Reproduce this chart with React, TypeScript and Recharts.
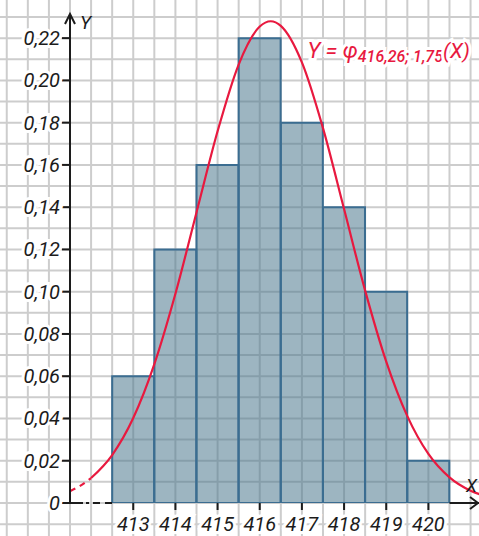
import React from "react";
import { ComposedChart, Bar, Line, XAxis, YAxis, CartesianGrid, ReferenceLine, ReferenceDot } from "recharts";

// histogram: relative frequencies per class
const classes = [413, 414, 415, 416, 417, 418, 419, 420];
const frequencies = [0.06, 0.12, 0.16, 0.22, 0.18, 0.14, 0.1, 0.02];

// density curve (solid part)
const curveX = [412, 412.5, 413, 413.5, 414, 414.5, 415, 415.5, 416, 416.26, 416.5, 417, 417.5, 418, 418.5, 419, 419.5, 420, 420.5, 421, 421.5];
const curveY = [0.0118, 0.0227, 0.0402, 0.0657, 0.099, 0.1375, 0.1759, 0.2075, 0.2255, 0.228, 0.2258, 0.2085, 0.1774, 0.1391, 0.1005, 0.0669, 0.0411, 0.0232, 0.0121, 0.0058, 0.0026];

// dashed tail left of the break
const tailX = [411.5, 411.75, 412];
const tailY = [0.0056, 0.0082, 0.0118];

const yTicks = [0, 0.02, 0.04, 0.06, 0.08, 0.1, 0.12, 0.14, 0.16, 0.18, 0.2, 0.22];

const X_MIN = 411.5;
const X_MAX = 421.2;
const Y_MAX = 0.23;

const histData = classes.map((c, i) => ({ x: c, freq: frequencies[i] }));
const curveData = curveX.map((x, i) => ({ x, y: curveY[i] }));
const tailData = tailX.map((x, i) => ({ x, y: tailY[i] }));

// grid every half class and every 0.01
const gridX: number[] = [];
for (let v = 410; v <= 422; v += 0.5) gridX.push(v);
const gridY: number[] = [];
for (let k = -1; k <= 24; k++) gridY.push(k / 100);

const FONT = "Roboto, 'DejaVu Sans', sans-serif";
const INK = "#1c1c1c";
const RED = "#e8193f";

const fmt = (v: number) => (v === 0 ? "0" : v.toFixed(2).replace(".", ","));

const YTick = (props: any) => {
  const { x, y, payload } = props;
  return (
    <text x={x} y={y} dy={7} textAnchor="end" fontFamily={FONT} fontStyle="italic" fontSize={20} fill={INK}
      stroke="#fff" strokeWidth={6} paintOrder="stroke">
      {fmt(payload.value)}
    </text>
  );
};

const XTick = (props: any) => {
  const { x, y, payload } = props;
  return (
    <text x={x} y={y} dy={19} textAnchor="middle" fontFamily={FONT} fontStyle="italic" fontSize={20} fill={INK}
      stroke="#fff" strokeWidth={6} paintOrder="stroke">
      {payload.value}
    </text>
  );
};

const YArrow = (props: any) => {
  const { cx, cy } = props;
  return (
    <g>
      <path d={`M${cx - 5},${cy + 7} L${cx},${cy - 3} L${cx + 5},${cy + 7} M${cx},${cy} L${cx},${cy - 3}`} stroke={INK} strokeWidth={2} fill="none" />
      <text x={cx + 10} y={cy + 12} fontFamily={FONT} fontStyle="italic" fontSize={19} fill={INK}>Y</text>
    </g>
  );
};

const XArrow = (props: any) => {
  const { cx, cy } = props;
  return (
    <g>
      <path d={`M${cx - 9},${cy - 6} L${cx - 1},${cy} L${cx - 9},${cy + 6}`} stroke={INK} strokeWidth={2} fill="none" />
      <text x={cx - 13} y={cy - 11} fontFamily={FONT} fontStyle="italic" fontSize={18} fill={INK}>X</text>
    </g>
  );
};

const Formula = (props: any) => {
  const { cx, cy } = props;
  return (
    <text x={cx} y={cy} fontFamily={FONT} fontStyle="italic" fill={RED} stroke="#fff" strokeWidth={6} paintOrder="stroke">
      <tspan fontSize={22}>Y = φ</tspan>
      <tspan fontSize={16} fontWeight={500} dy={4}>416,26; 1,75</tspan>
      <tspan fontSize={21} dy={-4}>(X)</tspan>
    </text>
  );
};

const App: React.FC = () => {
  return (
    <div style={{ position: "absolute", left: 0, top: 0, background: "#fff" }}>
      <ComposedChart width={479} height={536} data={histData} margin={{ top: 17, right: 0, bottom: 0, left: 0 }} barCategoryGap={0} barGap={0}>
        <CartesianGrid
          x={0}
          y={0}
          width={479}
          height={536}
          stroke="#cdcdcd"
          strokeWidth={2}
          verticalCoordinatesGenerator={({ xAxis, offset }: any) =>
            gridX.map((v) =>
              xAxis && typeof xAxis.scale === "function"
                ? xAxis.scale(v)
                : offset.left + ((v - X_MIN) / (X_MAX - X_MIN)) * offset.width
            )
          }
          horizontalCoordinatesGenerator={({ yAxis, offset }: any) =>
            gridY.map((v) =>
              yAxis && typeof yAxis.scale === "function"
                ? yAxis.scale(v)
                : offset.top + (1 - v / Y_MAX) * offset.height
            )
          }
        />
        <XAxis
          dataKey="x"
          type="number"
          domain={[X_MIN, X_MAX]}
          allowDataOverflow
          ticks={classes}
          interval={0}
          height={33}
          axisLine={false}
          tickLine={{ stroke: INK, strokeWidth: 2 }}
          tickSize={7}
          tick={<XTick />}
        />
        <XAxis xAxisId="bars" dataKey="x" type="number" domain={[X_MIN, X_MAX]} allowDataOverflow hide />
        <YAxis
          type="number"
          domain={[0, Y_MAX]}
          allowDataOverflow
          ticks={yTicks}
          interval={0}
          width={70}
          axisLine={{ stroke: INK, strokeWidth: 2 }}
          tickLine={{ stroke: INK, strokeWidth: 2 }}
          tickSize={8}
          tick={<YTick />}
        />
        <Bar xAxisId="bars" dataKey="freq" fill="#4d788e" fillOpacity={0.55} stroke="#3b6d91" strokeWidth={2} isAnimationActive={false} />
        <ReferenceLine segment={[{ x: 411.5, y: 0 }, { x: 412.5, y: 0 }]} stroke={INK} strokeWidth={2} strokeDasharray="13 3 3 4 7 5 20" />
        <ReferenceLine segment={[{ x: 420.5, y: 0 }, { x: X_MAX, y: 0 }]} stroke={INK} strokeWidth={2} />
        <Line data={tailData} dataKey="y" type="monotone" stroke={RED} strokeWidth={2.2} strokeDasharray="6 5" dot={false} activeDot={false} isAnimationActive={false} />
        <Line data={curveData} dataKey="y" type="monotone" stroke={RED} strokeWidth={2.2} dot={false} activeDot={false} isAnimationActive={false} />
        <ReferenceDot x={X_MIN} y={Y_MAX} ifOverflow="visible" shape={<YArrow />} />
        <ReferenceDot x={X_MAX} y={0} ifOverflow="visible" shape={<XArrow />} />
        <ReferenceDot x={417.13} y={0.2106} ifOverflow="visible" shape={<Formula />} />
      </ComposedChart>
    </div>
  );
};

export default App;
